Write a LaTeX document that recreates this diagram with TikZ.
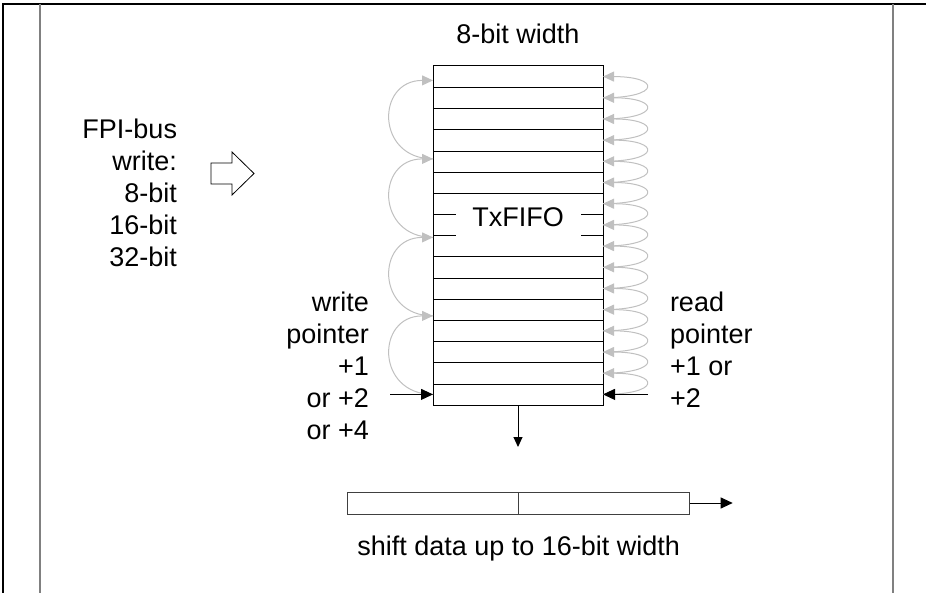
\documentclass[tikz,border=0pt]{standalone}
\usepackage{fontspec}
\setmainfont{Liberation Sans}
\usetikzlibrary{arrows.meta,positioning,calc}
\definecolor{hopgray}{RGB}{192,192,192}
\definecolor{framegray}{RGB}{128,128,128}

\begin{document}
\begin{tikzpicture}[
  x=1pt, y=-1pt,
  font=\fontsize{27}{32}\selectfont,
  lbl/.style={inner sep=0pt, outer sep=0pt},
  cell/.style={draw, line width=1pt, inner sep=0pt, outer sep=0pt},
  ptr/.style={-{Triangle[length=12pt,width=11pt]}, line width=1pt},
  hop/.style={-{Triangle[length=11pt,width=10pt]}, draw=hopgray, line width=1pt}
]
\useasboundingbox (0,0) rectangle (926,593);
% page frame
\draw[line width=1.4pt] (3,593) -- (3,4) -- (926,4);
\draw[framegray, line width=1.5pt] (40,4) -- (40,593) (893,4) -- (893,593);

% the FIFO, 16 rows
\node[cell, minimum width=170pt, minimum height=339pt, anchor=north west] (fifo) at (433,66) {};
\foreach \i in {1,2,3,4,5,6,9,10,11,12,13,14,15}
  \draw (fifo.north west) ++(0,{\i*339/16}) -- ++(170,0);
\foreach \i in {7,8} {
  \draw (fifo.north west) ++(0,{\i*339/16}) -- ++(23,0);
  \draw (fifo.north east) ++(0,{\i*339/16}) -- ++(-22,0);
}
\node[lbl, anchor=base] (txfifo) at ($(fifo.north)+(0,161)$) {TxFIFO};
\node[lbl, anchor=base] (width) at ($(fifo.north)+(0,-22)$) {8-bit width};

% row points on both sides
\foreach \k in {1,...,16}
  \coordinate (R\k) at ($(fifo.north east)+(0,{(\k-0.5)*339/16})$);
\foreach \k in {0,...,4}
  \coordinate (W\k) at ($(fifo.south west)+(0,{-339/32-78.5*\k})$);

% read pointer steps
\foreach \k [count=\n from 2] in {1,...,15}
  \draw[hop] (R\n) to[out=0,in=0,looseness=7] (R\k);
% write pointer steps
\foreach \k [count=\n from 0] in {1,...,4}
  \draw[hop] (W\n) to[out=180,in=180,looseness=1.87] (W\k);

\coordinate (wp) at ($(W0)+(-43,0)$);
\coordinate (rp) at ($(R16)+(45,0)$);
\draw[ptr] (wp) -- (W0);
\draw[ptr] (rp) -- (R16);

\node[lbl, align=right, anchor=base east] (wlbl) at (369,439) {write\\pointer\\+1\\or +2\\or +4};
\node[lbl, align=left, anchor=base west] (rlbl) at (670,407) {read\\pointer\\+1 or\\+2};
\node[lbl, align=right, anchor=base east] (buslbl) at (177,267) {FPI-bus\\write:\\8-bit\\16-bit\\32-bit};

% bus input arrow
\draw[line width=0.8pt] (211,163) -- (232,163) -- (232,152) -- (254,173.5) -- (232,195) -- (232,184) -- (211,184) -- cycle;

% output to shift register
\coordinate (fifoout) at ($(fifo.south)+(0,42)$);
\draw[ptr, -{Triangle[length=10pt,width=9pt]}] (fifo.south) -- (fifoout);

\node[cell, draw=black!75, minimum width=171pt, minimum height=22pt, anchor=north west] (sr1) at (347.7,492) {};
\node[cell, draw=black!75, minimum width=171pt, minimum height=22pt, right=0pt of sr1] (sr2) {};
\coordinate (srout) at ($(sr2.east)+(43,0)$);
\draw[ptr] (sr2.east) -- (srout);
\node[lbl, anchor=base] (shiftlbl) at ($(sr1.south east)+(0,41)$) {shift data up to 16-bit width};
\end{tikzpicture}
\end{document}
